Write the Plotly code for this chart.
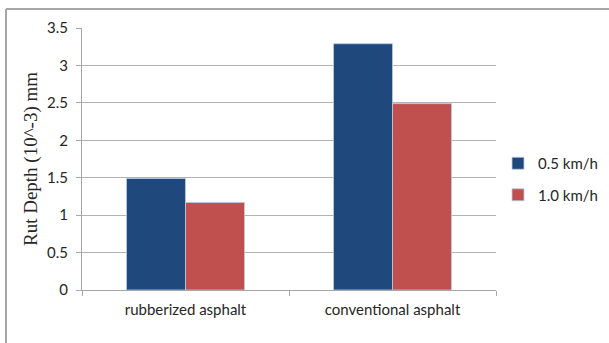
import plotly.graph_objects as go

categories = ["rubberized asphalt", "conventional asphalt"]
speed_05 = [1.49, 3.29]
speed_10 = [1.17, 2.49]
series_names = ["0.5 km/h", "1.0 km/h"]
y_ticks = [0, 0.5, 1, 1.5, 2, 2.5, 3, 3.5]
y_tick_labels = ["0", "0.5", "1", "1.5", "2", "2.5", "3", "3.5"]

W, H = 609, 343
L, R, T, B = 82, 113, 28, 53
pw, ph = W - L - R, H - T - B

def px(x):
    return (x - L) / pw

def py(y):
    return (H - B - y) / ph

fig = go.Figure()
fig.add_trace(go.Bar(x=categories, y=speed_05, name=series_names[0],
                     marker=dict(color="#1F497D", line=dict(color="#B9CDE5", width=0.8)),
                     legendgroup="a"))
fig.add_trace(go.Bar(x=categories, y=speed_10, name=series_names[1],
                     marker=dict(color="#C0504D", line=dict(color="#B9CDE5", width=0.8)),
                     legendgroup="b"))

tick_font = dict(family="Lato, Carlito, sans-serif", size=15, color="#262626")

fig.update_layout(
    width=W, height=H,
    margin=dict(l=L, r=R, t=T, b=B, autoexpand=False),
    paper_bgcolor="white", plot_bgcolor="white",
    barmode="group", bargap=0.43, bargroupgap=0,
    showlegend=True,
    legend=dict(x=px(498), y=py(179), xanchor="left", yanchor="middle",
                font=dict(family="Lato, Carlito, sans-serif", size=15, color="#262626"),
                traceorder="grouped", tracegroupgap=9, itemwidth=30,
                bgcolor="rgba(0,0,0,0)"),
    xaxis=dict(showgrid=False, showline=True, linecolor="#A6A6A6", linewidth=1,
               ticks="outside", tickson="boundaries", ticklen=5, tickcolor="#A6A6A6",
               tickfont=tick_font, ticklabelstandoff=6, fixedrange=True),
    yaxis=dict(range=[0, 3.5], tickvals=y_ticks, ticktext=y_tick_labels,
               showgrid=True, gridcolor="#B3B3B3", gridwidth=1,
               showline=True, linecolor="#A6A6A6", linewidth=1,
               ticks="outside", ticklen=5, tickcolor="#A6A6A6",
               tickfont=tick_font, ticklabelstandoff=5, zeroline=False,
               title=dict(text="Rut Depth (10^-3) mm",
                          font=dict(family="Liberation Serif, serif", size=19, color="#262626"),
                          standoff=4),
               fixedrange=True),
    shapes=[
        dict(type="line", xref="paper", yref="paper", x0=px(6), x1=px(W + 5),
             y0=py(9), y1=py(9), line=dict(color="#A6A6A6", width=2)),
        dict(type="line", xref="paper", yref="paper", x0=px(6), x1=px(6),
             y0=py(9), y1=py(H + 5), line=dict(color="#A6A6A6", width=2)),
    ],
)

fig.write_html("out.html", config={"displayModeBar": False},
               post_script="document.body.style.margin='0';document.body.style.overflow='hidden';")
